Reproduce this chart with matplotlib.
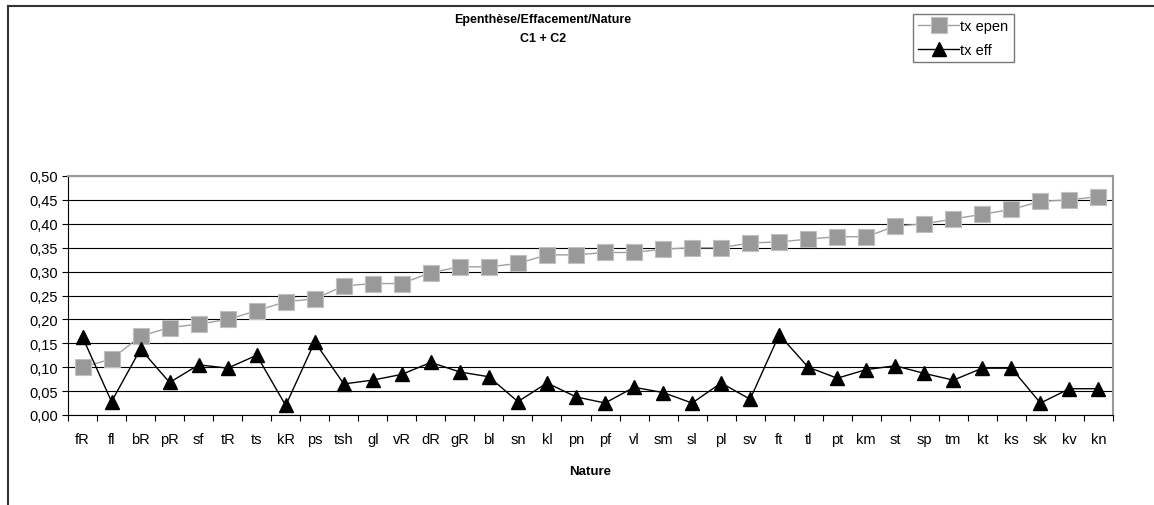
import matplotlib.pyplot as plt
from matplotlib.lines import Line2D
import numpy as np

plt.rcParams['font.family'] = ['Liberation Sans', 'DejaVu Sans']

categories = ['fR', 'fl', 'bR', 'pR', 'sf', 'tR', 'ts', 'kR', 'ps', 'tsh', 'gl', 'vR',
              'dR', 'gR', 'bl', 'sn', 'kl', 'pn', 'pf', 'vl', 'sm', 'sl', 'pl', 'sv',
              'ft', 'tl', 'pt', 'km', 'st', 'sp', 'tm', 'kt', 'ks', 'sk', 'kv', 'kn']
tx_epen = [0.100, 0.117, 0.165, 0.183, 0.190, 0.200, 0.218, 0.237, 0.243, 0.270, 0.275, 0.275,
           0.298, 0.310, 0.310, 0.317, 0.335, 0.335, 0.340, 0.340, 0.347, 0.350, 0.350, 0.360,
           0.362, 0.368, 0.373, 0.373, 0.395, 0.400, 0.410, 0.420, 0.430, 0.447, 0.450, 0.457]
tx_eff = [0.163, 0.028, 0.138, 0.068, 0.105, 0.098, 0.125, 0.020, 0.153, 0.065, 0.073, 0.085,
          0.110, 0.090, 0.080, 0.028, 0.067, 0.038, 0.025, 0.058, 0.047, 0.025, 0.067, 0.033,
          0.168, 0.100, 0.077, 0.095, 0.103, 0.087, 0.073, 0.098, 0.098, 0.025, 0.055, 0.055]
y_ticks = np.arange(0, 0.501, 0.05)

fig = plt.figure(figsize=(11.54, 5.06), dpi=100)
ax = fig.add_axes([68 / 1154, 90 / 506, 1045 / 1154, 239 / 506])

x = np.arange(len(categories))
ax.plot(x, tx_epen, color='#a0a0a0', lw=1, marker='s', markersize=11,
        markerfacecolor='#999999', markeredgecolor='#c0c0c0', markeredgewidth=0.8,
        label='tx epen', zorder=3)
ax.plot(x, tx_eff, color='black', lw=1, marker='^', markersize=10,
        markerfacecolor='black', markeredgecolor='black', label='tx eff', zorder=4)

ax.set_xlim(-0.5, len(categories) - 0.5)
ax.set_ylim(0, 0.5)
ax.set_yticks(y_ticks)
ax.set_yticklabels([f'{v:.2f}'.replace('.', ',') for v in y_ticks], fontsize=10.5)
ax.yaxis.grid(True, color='black', lw=0.8)
ax.set_axisbelow(True)

ax.set_xticks(np.arange(-0.5, len(categories), 1))
ax.set_xticklabels([])
ax.set_xticks(x, minor=True)
ax.set_xticklabels(categories, minor=True, fontsize=10.5)
ax.tick_params(axis='x', which='major', length=4, color='black')
ax.tick_params(axis='x', which='minor', length=0, pad=12)
ax.tick_params(axis='y', length=4, color='black', pad=3)

ax.spines['top'].set_color('#999999')
ax.spines['right'].set_color('#999999')
ax.spines['top'].set_linewidth(1.5)
ax.spines['right'].set_linewidth(1.5)
ax.set_xlabel('Nature', fontsize=9.5, fontweight='bold', labelpad=14)

fig.text(543 / 1154, 1 - 20 / 506, 'Epenthèse/Effacement/Nature', ha='center', va='center',
         fontsize=9, fontweight='bold')
fig.text(543 / 1154, 1 - 39 / 506, 'C1 + C2', ha='center', va='center',
         fontsize=9, fontweight='bold')

leg = fig.legend(loc='upper left', bbox_to_anchor=(913 / 1154, 1 - 15 / 506),
                 fontsize=10.5, frameon=True, fancybox=False, handlelength=2.8,
                 handletextpad=0.1, borderpad=0.35, labelspacing=0.7, borderaxespad=0)
leg.get_frame().set_edgecolor('#555555')
leg.get_frame().set_linewidth(1)

fig.add_artist(Line2D([8 / 1154, 1], [1 - 7 / 506, 1 - 7 / 506], color='#333333', lw=1.5))
fig.add_artist(Line2D([8 / 1154, 8 / 1154], [0, 1 - 7 / 506], color='#333333', lw=1.5))

fig.savefig('out.png', dpi=100)
